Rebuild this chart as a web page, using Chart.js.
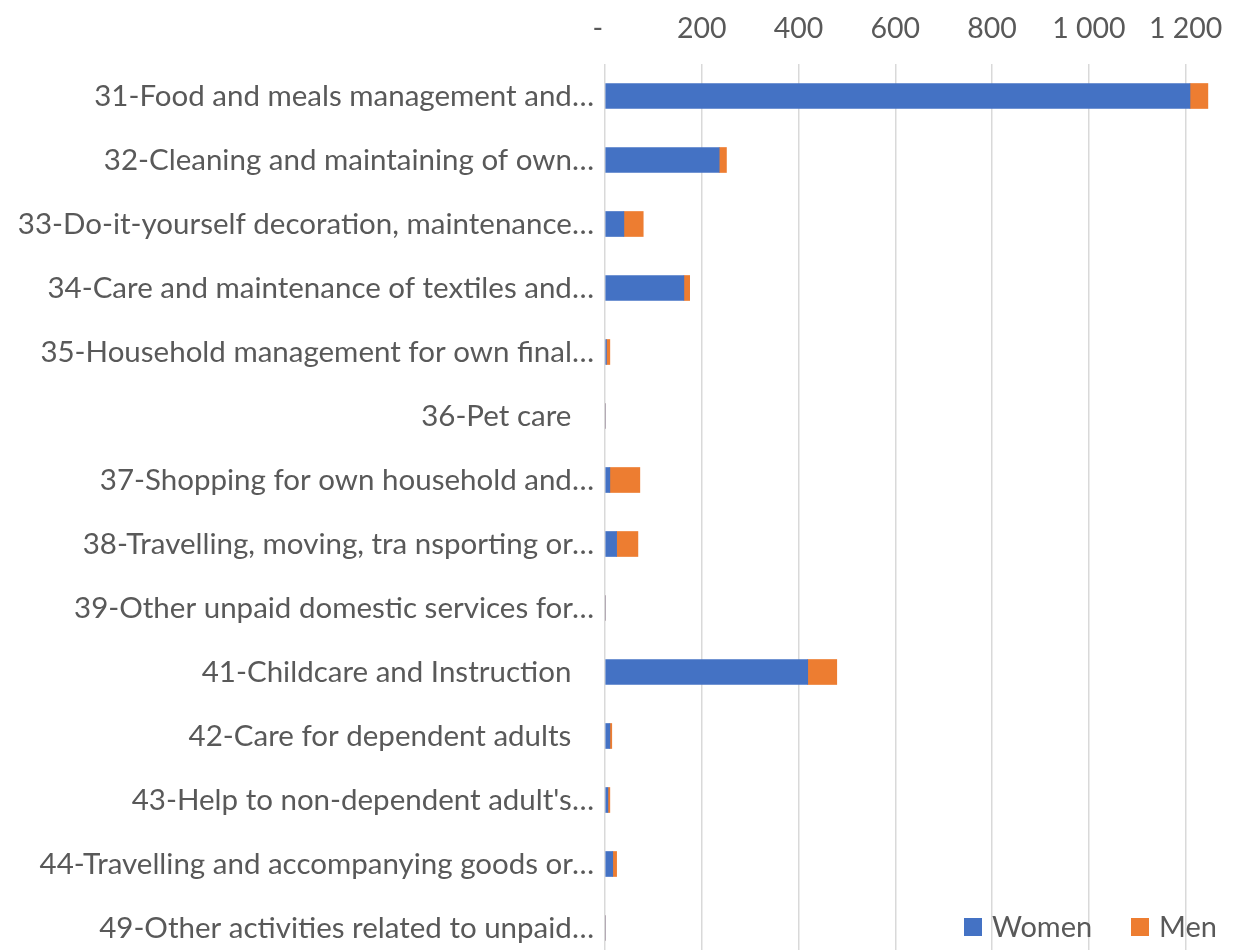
<!DOCTYPE html>
<html>
<head>
<meta charset="utf-8">
<script src="https://cdn.jsdelivr.net/npm/chart.js@4/dist/chart.umd.min.js"></script>
<style>
html,body{margin:0;padding:0;background:#fff;overflow:hidden;}
#wrap{width:1242px;height:960px;position:relative;}
</style>
</head>
<body>
<div id="wrap"><canvas id="c" width="1242" height="960"></canvas></div>
<script>
const categories = [
  "31-Food and meals management and\u2026",
  "32-Cleaning and maintaining of own\u2026",
  "33-Do-it-yourself decoration, maintenance\u2026",
  "34-Care and maintenance of textiles and\u2026",
  "35-Household management for own final\u2026",
  "36-Pet care   ",
  "37-Shopping for own household and\u2026",
  "38-Travelling, moving, tra nsporting or\u2026",
  "39-Other unpaid domestic services for\u2026",
  "41-Childcare and Instruction   ",
  "42-Care for dependent adults   ",
  "43-Help to non-dependent adult's\u2026",
  "44-Travelling and accompanying goods or\u2026",
  "49-Other activities related to unpaid\u2026"
];
const women = [1209, 236, 39, 163, 3, 0, 10, 24, 0, 419, 10, 6, 16, 0];
const men   = [37, 15, 40, 12, 7, 0, 62, 44, 0, 60, 4, 4, 8, 0];
const tickValues = [0, 200, 400, 600, 800, 1000, 1200];

const FONT = "Lato, 'Open Sans', sans-serif";
const TXT = "#595959";

function fmt(v){
  if (v === 0) return "-  ";
  const s = String(v);
  return s.replace(/\B(?=(\d{3})+(?!\d))/g, " ");
}

const legendPlugin = {
  id: 'customLegend',
  afterDraw(chart){
    const ctx = chart.ctx;
    const ds = chart.data.datasets;
    const y = 927;
    const items = [{x: 964, ds: ds[0]}, {x: 1131, ds: ds[1]}];
    ctx.save();
    ctx.font = "29px " + FONT;
    ctx.textBaseline = "middle";
    ctx.textAlign = "left";
    for (const it of items){
      ctx.fillStyle = it.ds.backgroundColor;
      ctx.fillRect(it.x, y - 9, 18, 18);
      ctx.fillStyle = TXT;
      ctx.fillText(it.ds.label, it.x + 28, y + 1);
    }
    ctx.restore();
  }
};

new Chart(document.getElementById('c'), {
  type: 'bar',
  data: {
    labels: categories,
    datasets: [
      {label: 'Women', data: women, backgroundColor: '#4472C4', barThickness: 25},
      {label: 'Men', data: men, backgroundColor: '#ED7D31', barThickness: 25}
    ]
  },
  options: {
    indexAxis: 'y',
    responsive: false,
    animation: false,
    layout: {padding: {top: 0, right: 8, bottom: 0, left: 0}},
    plugins: {legend: {display: false}, tooltip: {enabled: false}},
    scales: {
      x: {
        position: 'top',
        stacked: true,
        min: 0,
        max: 1300,
        afterBuildTicks(scale){ scale.ticks = tickValues.map(v => ({value: v})); },
        afterFit(scale){ scale.height = 64; scale.paddingLeft = 0; scale.paddingRight = 0; },
        ticks: {
          font: {family: FONT, size: 28.5},
          color: TXT,
          padding: 18,
          callback: (v) => fmt(v),
          maxRotation: 0
        },
        grid: {color: '#D9D9D9', lineWidth: 1.5, drawTicks: false},
        border: {display: false}
      },
      y: {
        stacked: true,
        afterFit(scale){ scale.width = 605; scale.paddingTop = 0; scale.paddingBottom = 0; },
        ticks: {
          font: {family: FONT, size: 29.5},
          color: TXT,
          padding: 11,
          autoSkip: false
        },
        grid: {display: false, drawTicks: false},
        border: {display: false}
      }
    }
  },
  plugins: [legendPlugin]
});
</script>
</body>
</html>
